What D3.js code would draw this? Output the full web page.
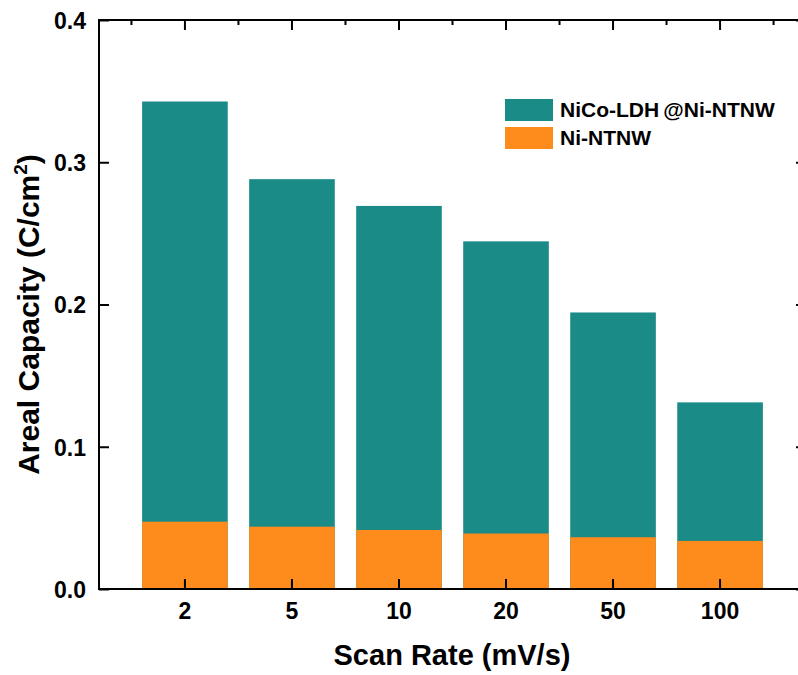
<!DOCTYPE html>
<html>
<head>
<meta charset="utf-8">
<script src="https://cdn.jsdelivr.net/npm/d3@7"></script>
<style>
  body { margin: 0; background: #fff; }
  text { font-family: "Liberation Sans", Arial, sans-serif; font-weight: bold; fill: #000; }
</style>
</head>
<body>
<div id="chart"></div>
<script>
// data
const scanRates = ['2', '5', '10', '20', '50', '100'];
const nicoLdh = [0.3427, 0.2881, 0.2693, 0.2444, 0.1944, 0.1312];
const niNtnw = [0.0473, 0.0438, 0.0415, 0.0390, 0.0364, 0.0338];
const yTicks = [0.0, 0.1, 0.2, 0.3, 0.4];

const teal = '#1b8b88';
const orange = '#fd8c1c';

const width = 798, height = 675;
const plotL = 99, plotR = 806, plotT = 20, plotB = 589;

const svg = d3.select('#chart').append('svg')
    .attr('width', width)
    .attr('height', height);

const x = d3.scaleBand()
    .domain(scanRates)
    .range([plotL, plotR])
    .paddingInner(0.2)
    .paddingOuter(0.403);

const y = d3.scaleLinear()
    .domain([0, 0.4])
    .range([plotB, plotT]);

// bars: total behind, substrate in front
svg.append('g').selectAll('rect')
    .data(scanRates)
    .join('rect')
    .attr('x', d => x(d))
    .attr('width', x.bandwidth())
    .attr('y', (d, i) => y(nicoLdh[i]))
    .attr('height', (d, i) => y(0) - y(nicoLdh[i]))
    .attr('fill', teal);

svg.append('g').selectAll('rect')
    .data(scanRates)
    .join('rect')
    .attr('x', d => x(d))
    .attr('width', x.bandwidth())
    .attr('y', (d, i) => y(niNtnw[i]))
    .attr('height', (d, i) => y(0) - y(niNtnw[i]))
    .attr('fill', orange);

const center = d => x(d) + x.bandwidth() / 2;
const step = x.step();

// minor positions on the top axis, between categories
const minorX = scanRates.map(d => center(d) - step / 2).concat([center('100') + step / 2]);

// left axis
const yAxis = svg.append('g')
    .attr('transform', `translate(${plotL},0)`)
    .call(d3.axisLeft(y).tickValues(yTicks).tickFormat(d3.format('.1f')).tickSizeInner(-10).tickSizeOuter(0).tickPadding(13));
yAxis.select('.domain').remove();
yAxis.selectAll('text').style('font-size', '23px').attr('dy', '0.36em');

// right axis
const yAxisR = svg.append('g')
    .attr('transform', `translate(${plotR},0)`)
    .call(d3.axisRight(y).tickValues(yTicks).tickFormat('').tickSizeInner(-10).tickSizeOuter(0));
yAxisR.select('.domain').remove();

// bottom axis
const xAxis = svg.append('g')
    .attr('transform', `translate(0,${plotB})`)
    .call(d3.axisBottom(x).tickSizeInner(-10).tickSizeOuter(0).tickPadding(14));
xAxis.select('.domain').remove();
xAxis.selectAll('text').style('font-size', '23px').attr('dy', '0.71em');

// top axis
const xAxisT = svg.append('g')
    .attr('transform', `translate(0,${plotT})`)
    .call(d3.axisTop(x).tickSizeInner(-10).tickSizeOuter(0).tickFormat(''));
xAxisT.select('.domain').remove();
xAxisT.selectAll('.minor')
    .data(minorX)
    .join('line')
    .attr('class', 'minor')
    .attr('x1', d => d).attr('x2', d => d)
    .attr('y1', 0).attr('y2', 5);

svg.selectAll('.tick line').attr('stroke', '#000').attr('stroke-width', 2);
svg.selectAll('.minor').attr('stroke', '#000').attr('stroke-width', 2);

// frame
svg.append('rect')
    .attr('x', plotL).attr('y', plotT)
    .attr('width', plotR - plotL).attr('height', plotB - plotT)
    .attr('fill', 'none')
    .attr('stroke', '#000')
    .attr('stroke-width', 2);

// axis titles
svg.append('text')
    .attr('x', 452)
    .attr('y', 665)
    .attr('text-anchor', 'middle')
    .style('font-size', '29px')
    .text('Scan Rate (mV/s)');

const yt = svg.append('text')
    .attr('transform', `translate(39,${(plotT + plotB) / 2 + 10}) rotate(-90)`)
    .attr('text-anchor', 'middle')
    .style('font-size', '30px');
yt.append('tspan').text('Areal Capacity (C/cm');
yt.append('tspan').attr('dy', -12).style('font-size', '19px').text('2');
yt.append('tspan').attr('dy', 12).text(')');

// legend
const legendItems = [
  { label: 'NiCo-LDH\u2009@Ni-NTNW', color: teal },
  { label: 'Ni-NTNW', color: orange }
];
const legend = svg.append('g').attr('transform', 'translate(505,99)');
legend.selectAll('rect')
    .data(legendItems)
    .join('rect')
    .attr('x', 0)
    .attr('y', (d, i) => i * 28)
    .attr('width', 48)
    .attr('height', 22)
    .attr('fill', d => d.color);
legend.selectAll('text')
    .data(legendItems)
    .join('text')
    .attr('x', 55)
    .attr('y', (d, i) => i * 28 + 18)
    .style('font-size', '21px')
    .text(d => d.label);
</script>
</body>
</html>
